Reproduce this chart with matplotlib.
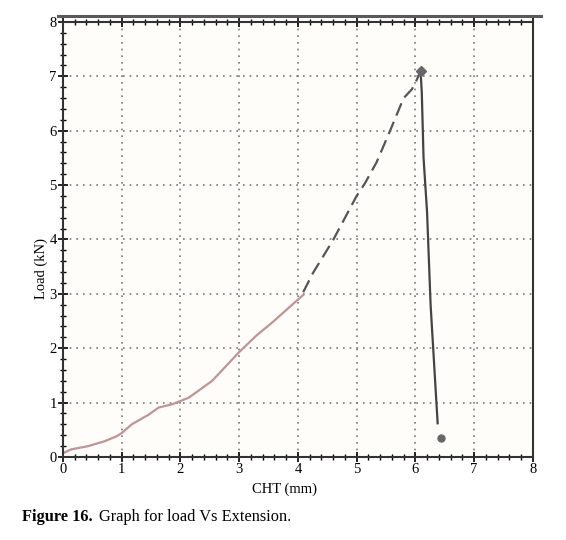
import numpy as np
import matplotlib.pyplot as plt
from matplotlib.lines import Line2D

# data
ext_low = [0.0, 0.14, 0.43, 0.71, 0.91, 1.0, 1.17, 1.46, 1.63, 1.86, 2.0, 2.14, 2.54, 3.0, 3.29, 3.57, 3.86, 4.09]
load_low = [0.07, 0.14, 0.2, 0.29, 0.38, 0.44, 0.6, 0.78, 0.91, 0.97, 1.03, 1.09, 1.4, 1.93, 2.23, 2.48, 2.76, 2.98]
ext_mid = [4.09, 4.26, 4.6, 5.0, 5.14, 5.34, 5.57, 5.8, 5.94, 6.0, 6.09]
load_mid = [3.03, 3.39, 3.99, 4.8, 5.03, 5.42, 6.0, 6.6, 6.76, 6.88, 7.09]
ext_drop = [6.09, 6.11, 6.14, 6.2, 6.26, 6.38]
load_drop = [7.09, 6.7, 5.5, 4.5, 2.8, 0.62]
peak = (6.09, 7.1)
end = (6.43, 0.35)

xticks = [0, 1, 2, 3, 4, 5, 6, 7, 8]
yticks = [0, 1, 2, 3, 4, 5, 6, 7, 8]

plt.rcParams['font.family'] = ['Liberation Serif', 'DejaVu Serif']

fig = plt.figure(figsize=(5.66, 5.4), dpi=100)
ax = fig.add_axes([0.1113, 0.1537, 0.830, 0.8056])
ax.set_facecolor('#fefdfa')

ax.plot(ext_low, load_low, color='#bf9494', lw=1.6)
ax.plot(ext_mid, load_mid, color='#555555', lw=1.6, ls=(0, (6, 3)))
ax.plot(ext_drop, load_drop, color='#444444', lw=1.6)
ax.plot(*peak, marker='D', color='#666666', ms=5)
ax.plot(*end, marker='o', color='#666666', ms=5)

ax.set_xlim(0, 8)
ax.set_ylim(0, 8)
ax.set_xticks(xticks)
ax.set_yticks(yticks)
ax.set_xticks(np.arange(0, 8.01, 0.2), minor=True)
ax.set_yticks(np.arange(0, 8.01, 0.2), minor=True)
ax.tick_params(which='major', direction='inout', length=7, width=1.2, labelsize=10.5, pad=1)
ax.tick_params(which='minor', direction='inout', length=4, width=1.0)
ax.tick_params(top=True, which='both')
ax.grid(True, which='major', ls=(0, (1, 3)), color='#777777', lw=1.2)

for s in ax.spines.values():
    s.set_linewidth(1.5)
    s.set_color('#333333')

ax.set_xlabel('CHT (mm)', fontsize=10.5)
ax.set_ylabel('Load (kN)', fontsize=10.5)
ax.xaxis.set_label_coords(0.472, -0.058)
ax.yaxis.set_label_coords(-0.031, 0.434)

fig.add_artist(Line2D([0.103, 0.955], [0.970, 0.970], color='#5a5a5a', lw=2.2))

fig.text(0.039, 0.043, 'Figure 16.', fontsize=11.8, fontweight='bold', va='center')
fig.text(0.175, 0.043, 'Graph for load Vs Extension.', fontsize=11.8, va='center')

fig.savefig('out.png', dpi=100)
